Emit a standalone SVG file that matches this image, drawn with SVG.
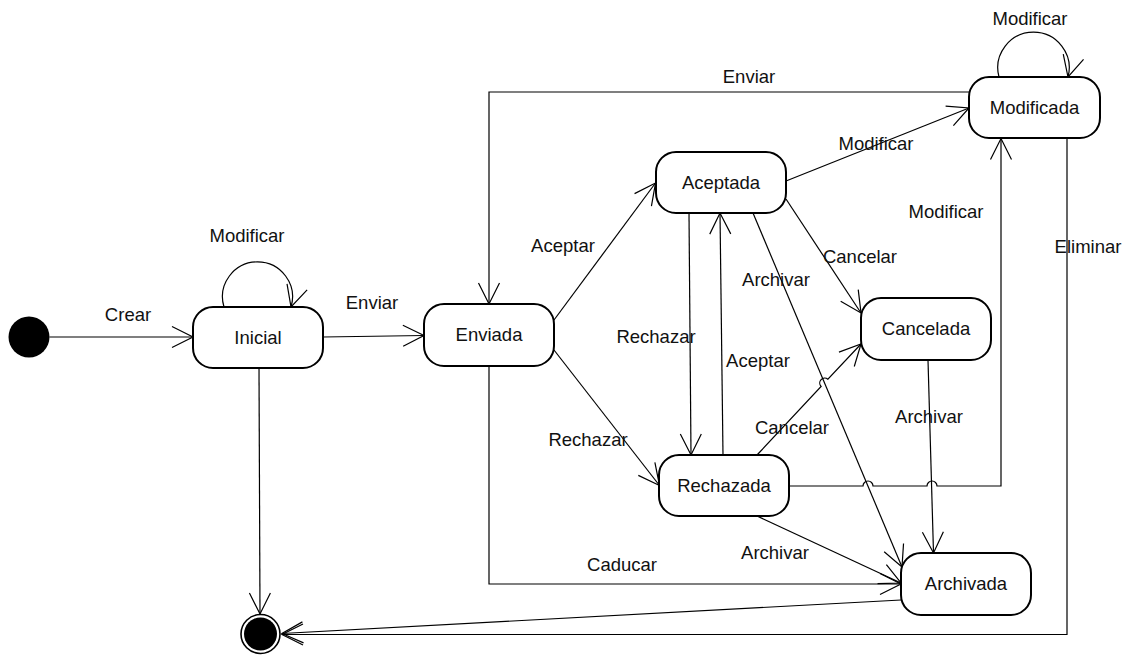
<svg xmlns="http://www.w3.org/2000/svg" width="1131" height="655" viewBox="0 0 1131 655">
<style>
.st rect{fill:#fff;stroke:#000;stroke-width:2}
text{font-family:"Liberation Sans",Arial,sans-serif;font-size:18.5px;fill:#111;text-anchor:middle}
.c path{fill:none;stroke:#000;stroke-width:1.2;marker-end:url(#arr)}
</style>
<defs>
<marker id="arr" viewBox="-23 -12 25 24" refX="0" refY="0" markerWidth="25" markerHeight="24" markerUnits="userSpaceOnUse" orient="auto">
<path d="M-21,-10.5 L0,0 L-21,10.5" fill="none" stroke="#000" stroke-width="1.2"/>
</marker>
</defs>
<rect width="1131" height="655" fill="#fff"/>
<g id="connectors" class="c">
<path d="M49.5,337 L193,337"/>
<path d="M224,307 A35,35 0 1 1 291,307"/>
<path d="M323,337 L424,335.5"/>
<path d="M259,368 L260,614"/>
<path d="M554,320 L655.5,183"/>
<path d="M554,350 L659.5,485.5"/>
<path d="M689,213 L691,455"/>
<path d="M723,455 L720,213"/>
<path d="M786,199 L861,313"/>
<path d="M757,455 L821.1,386.5 A5,5 0 0 1 827.9,379.2 L861,344"/>
<path d="M753,213 L902,567"/>
<path d="M928,360 L933.5,553"/>
<path d="M757,516 L901,583"/>
<path d="M489,366 V584 H901"/>
<path d="M789,486 H863 A5,5 0 0 1 873,486 H927 A5,5 0 0 1 937,486 H1001 V138.5"/>
<path d="M969,92 H489 V304"/>
<path d="M999,77 A35.7,35.7 0 1 1 1068,77"/>
<path d="M786,181 L969,108"/>
<path d="M1067,138 V634.5 H282"/>
<path d="M901,600 L282,633.5"/>
</g>
<g id="labels">
<text x="128" y="321">Crear</text>
<text x="247" y="242">Modificar</text>
<text x="372" y="309">Enviar</text>
<text x="749" y="83">Enviar</text>
<text x="1030" y="25">Modificar</text>
<text x="876" y="150">Modificar</text>
<text x="946" y="218">Modificar</text>
<text x="860" y="263">Cancelar</text>
<text x="776" y="286">Archivar</text>
<text x="1088" y="253">Eliminar</text>
<text x="563" y="252">Aceptar</text>
<text x="656" y="343">Rechazar</text>
<text x="758" y="367">Aceptar</text>
<text x="792" y="434">Cancelar</text>
<text x="929" y="423">Archivar</text>
<text x="588" y="446">Rechazar</text>
<text x="775" y="559">Archivar</text>
<text x="622" y="571">Caducar</text>
</g>
<g id="start"><circle cx="29" cy="337" r="20.5" fill="#000"/></g>
<g id="end"><circle cx="260.5" cy="634" r="19.5" fill="#fff" stroke="#000" stroke-width="1.6"/><circle cx="260.5" cy="634" r="16.5" fill="#000"/></g>
<g id="inicial" class="st"><rect x="193" y="307" width="130" height="61" rx="20"/><text x="258" y="344">Inicial</text></g>
<g id="enviada" class="st"><rect x="424" y="304" width="130" height="62" rx="20"/><text x="489" y="341">Enviada</text></g>
<g id="aceptada" class="st"><rect x="656" y="152" width="130" height="61" rx="20"/><text x="721" y="189">Aceptada</text></g>
<g id="modificada" class="st"><rect x="969" y="77" width="131" height="61" rx="20"/><text x="1034.5" y="114">Modificada</text></g>
<g id="cancelada" class="st"><rect x="861" y="298" width="130" height="62" rx="20"/><text x="926" y="335">Cancelada</text></g>
<g id="rechazada" class="st"><rect x="659" y="455" width="130" height="61" rx="20"/><text x="724" y="492">Rechazada</text></g>
<g id="archivada" class="st"><rect x="901" y="553" width="130" height="62" rx="20"/><text x="966" y="590">Archivada</text></g>
</svg>
